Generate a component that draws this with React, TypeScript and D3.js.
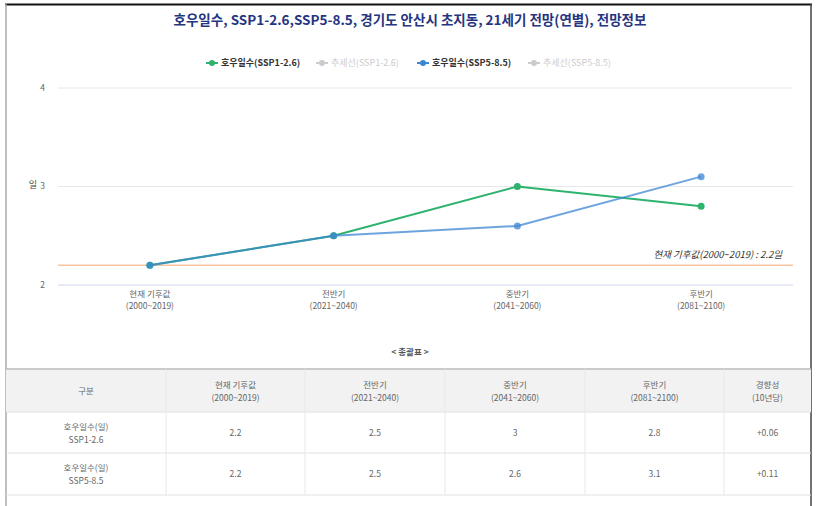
import React, { useRef, useEffect } from 'react';
import * as d3 from 'd3';

const W = 819;
const H = 506;
const FONT = '"Noto Sans CJK KR", "Noto Sans", sans-serif';

const title = '호우일수, SSP1-2.6,SSP5-8.5, 경기도 안산시 초지동, 21세기 전망(연별), 전망정보';
const periods = ['현재 기후값', '전반기', '중반기', '후반기'];
const periodYears = ['(2000~2019)', '(2021~2040)', '(2041~2060)', '(2081~2100)'];
const ssp126 = [2.2, 2.5, 3, 2.8];
const ssp585 = [2.2, 2.5, 2.6, 3.1];
const trend = ['+0.06', '+0.11'];
const baseline = 2.2;
const yTicks = [2, 3, 4];
const legendItems = [
  { label: '호우일수(SSP1-2.6)', color: '#2eb36f', on: true },
  { label: '추세선(SSP1-2.6)', color: '#cccccc', on: false },
  { label: '호우일수(SSP5-8.5)', color: '#3d86d3', on: true },
  { label: '추세선(SSP5-8.5)', color: '#cccccc', on: false },
];
const tableRows = [
  { name: '호우일수(일)', sub: 'SSP1-2.6', values: ssp126, trend: trend[0] },
  { name: '호우일수(일)', sub: 'SSP5-8.5', values: ssp585, trend: trend[1] },
];

const App = () => {
  const svgRef = useRef<SVGSVGElement>(null);

  useEffect(() => {
    if (!svgRef.current) return;
    const svg = d3.select(svgRef.current);
    svg.selectAll('*').remove();
    svg.attr('font-family', FONT);

    // frame
    svg.append('rect').attr('width', W).attr('height', H).attr('fill', '#fff');
    svg.append('line').attr('x1', 5).attr('x2', 812).attr('y1', 4.5).attr('y2', 4.5)
      .attr('stroke', '#111').attr('stroke-width', 2);
    svg.append('line').attr('x1', 6).attr('x2', 6).attr('y1', 4).attr('y2', H)
      .attr('stroke', '#aaa').attr('stroke-width', 1.5);
    svg.append('line').attr('x1', 811).attr('x2', 811).attr('y1', 4).attr('y2', H)
      .attr('stroke', '#444').attr('stroke-width', 1.5);

    // title
    svg.append('text').attr('x', 410).attr('y', 25).attr('text-anchor', 'middle')
      .attr('font-size', 13.5).attr('font-weight', 'bold').attr('fill', '#263580')
      .text(title);

    // legend
    const legendX = [206, 316, 417, 528];
    legendItems.forEach((d, i) => {
      const g = svg.append('g').attr('transform', `translate(${legendX[i]},63)`);
      g.append('line').attr('x1', 0).attr('x2', 12).attr('stroke', d.color).attr('stroke-width', 2);
      g.append('circle').attr('cx', 6).attr('r', 3).attr('fill', d.color);
      g.append('text').attr('x', 15).attr('dy', '0.35em').attr('font-size', 9)
        .attr('font-weight', d.on ? 'bold' : 'normal')
        .attr('fill', d.on ? '#333' : '#cccccc').text(d.label);
    });

    // scales
    const x = d3.scalePoint<string>().domain(periods).range([58, 793]).padding(0.5);
    const y = d3.scaleLinear().domain([2, 4]).range([285, 88]);

    // grid
    svg.append('g').selectAll('line').data(yTicks).join('line')
      .attr('x1', 58).attr('x2', 793)
      .attr('y1', (d) => y(d)).attr('y2', (d) => y(d))
      .attr('stroke', (d) => (d === 2 ? '#ccd6eb' : '#e8e8e8')).attr('stroke-width', 1);
    svg.append('g').selectAll('text').data(yTicks).join('text')
      .attr('x', 45).attr('y', (d) => y(d)).attr('dy', '0.35em').attr('text-anchor', 'end')
      .attr('font-size', 8.5).attr('fill', '#666').text((d) => d);
    svg.append('text').attr('x', 33).attr('y', y(3)).attr('dy', '0.2em').attr('text-anchor', 'middle')
      .attr('font-size', 9).attr('fill', '#444').text('일');

    // baseline
    svg.append('line').attr('x1', 58).attr('x2', 793)
      .attr('y1', y(baseline)).attr('y2', y(baseline))
      .attr('stroke', '#f7c3a0').attr('stroke-width', 1.5);
    svg.append('text').attr('x', 782).attr('y', y(baseline) - 7).attr('text-anchor', 'end')
      .attr('font-size', 9.5).attr('font-style', 'italic').attr('fill', '#333')
      .text('현재 기후값(2000~2019) : 2.2일');

    // x labels
    const xl = svg.append('g');
    periods.forEach((p, i) => {
      const t = xl.append('text').attr('x', x(p)!).attr('y', 297).attr('text-anchor', 'middle')
        .attr('font-size', 8.5).attr('fill', '#666');
      t.append('tspan').attr('x', x(p)!).text(p);
      t.append('tspan').attr('x', x(p)!).attr('dy', 12).text(periodYears[i]);
    });

    // series
    const line = d3.line<number>().x((_, i) => x(periods[i])!).y((d) => y(d));
    [
      { data: ssp126, color: '#2eb36f', op: 1 },
      { data: ssp585, color: '#3d86d3', op: 0.75 },
    ].forEach((s) => {
      svg.append('path').datum(s.data).attr('d', line).attr('fill', 'none')
        .attr('stroke', s.color).attr('stroke-width', 2).attr('stroke-opacity', s.op);
      svg.append('g').selectAll('circle').data(s.data).join('circle')
        .attr('cx', (_, i) => x(periods[i])!).attr('cy', (d) => y(d)).attr('r', 3.5)
        .attr('fill', s.color).attr('fill-opacity', s.op);
    });

    // table caption
    svg.append('text').attr('x', 410).attr('y', 355).attr('text-anchor', 'middle')
      .attr('font-size', 8.5).attr('font-weight', 'bold').attr('fill', '#555').text('< 총괄표 >');

    // table
    const colX = [6, 166, 305, 445, 585, 724, 811];
    const rowY = [369, 412, 453, 495];
    const headers: [string, string][] = [
      ['구분', ''],
      ...periods.map((p, i) => [p, periodYears[i]] as [string, string]),
      ['경향성', '(10년당)'],
    ];
    svg.append('rect').attr('x', colX[0]).attr('y', rowY[0]).attr('width', colX[6] - colX[0])
      .attr('height', rowY[1] - rowY[0]).attr('fill', '#f2f2f2');
    rowY.forEach((ry, i) => {
      svg.append('line').attr('x1', colX[0]).attr('x2', colX[6]).attr('y1', ry).attr('y2', ry)
        .attr('stroke', i === 0 ? '#bbb' : '#e2e2e2').attr('stroke-width', i === 0 ? 1.5 : 1);
    });
    colX.slice(1, 6).forEach((cx) => {
      svg.append('line').attr('x1', cx).attr('x2', cx).attr('y1', rowY[0]).attr('y2', rowY[3])
        .attr('stroke', '#e8e8e8');
    });
    const cellText = (c: number, r: number, l1: string, l2: string) => {
      const cx = (colX[c] + colX[c + 1]) / 2;
      const cy = (rowY[r] + rowY[r + 1]) / 2;
      const t = svg.append('text').attr('text-anchor', 'middle').attr('font-size', 8.5).attr('fill', '#666');
      if (l2) {
        t.append('tspan').attr('x', cx).attr('y', cy - 3).text(l1);
        t.append('tspan').attr('x', cx).attr('y', cy + 10).text(l2);
      } else {
        t.append('tspan').attr('x', cx).attr('y', cy + 3).text(l1);
      }
    };
    headers.forEach((h, c) => cellText(c, 0, h[0], h[1]));
    tableRows.forEach((row, r) => {
      cellText(0, r + 1, row.name, row.sub);
      row.values.forEach((v, c) => cellText(c + 1, r + 1, String(v), ''));
      cellText(5, r + 1, row.trend, '');
    });
  }, []);

  return (
    <svg ref={svgRef} width={W} height={H}
      style={{ position: 'absolute', left: 0, top: 0, display: 'block' }} />
  );
};

export default App;
